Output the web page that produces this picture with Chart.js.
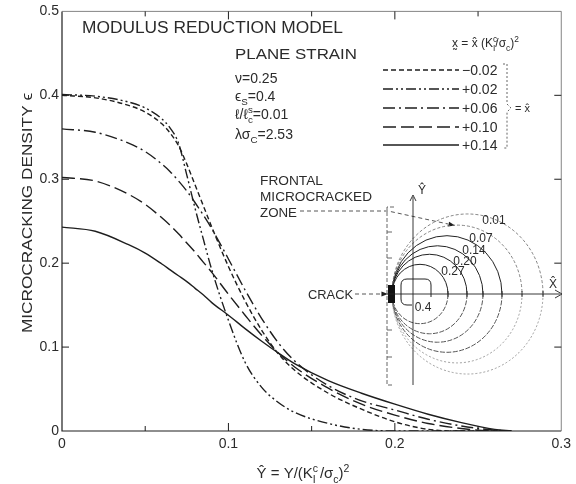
<!DOCTYPE html>
<html><head><meta charset="utf-8">
<script src="https://cdn.jsdelivr.net/npm/chart.js@4.4.1/dist/chart.umd.min.js"></script>
<style>html,body{margin:0;padding:0;background:#fff}canvas{display:block}</style>
</head><body>
<canvas id="c" width="576" height="484"></canvas>
<script>
// ---- data ----
const yHat = [0, 0.02, 0.04, 0.05, 0.06, 0.065, 0.07, 0.075, 0.08, 0.085, 0.09, 0.10, 0.11, 0.12, 0.13, 0.14, 0.16, 0.18, 0.20, 0.22, 0.24, 0.26, 0.27];
const epsMinus002 = [0.400,0.397,0.388,0.380,0.366,0.355,0.340,0.318,0.293,0.268,0.243,0.196,0.155,0.120,0.092,0.072,0.045,0.026,0.011,0.002,0,0,0];
const epsPlus002  = [0.401,0.399,0.392,0.385,0.372,0.361,0.343,0.305,0.265,0.228,0.192,0.132,0.082,0.052,0.034,0.022,0.009,0.002,0,0,0,0,0];
const epsPlus006  = [0.360,0.356,0.343,0.333,0.318,0.309,0.298,0.286,0.272,0.257,0.241,0.205,0.168,0.134,0.105,0.083,0.054,0.036,0.025,0.014,0.006,0.001,0];
const epsPlus010  = [0.302,0.298,0.282,0.270,0.254,0.245,0.235,0.224,0.213,0.201,0.189,0.163,0.138,0.114,0.093,0.076,0.051,0.032,0.019,0.009,0.003,0,0];
const epsPlus014  = [0.243,0.238,0.222,0.212,0.199,0.192,0.185,0.178,0.170,0.162,0.153,0.138,0.122,0.107,0.093,0.080,0.060,0.045,0.032,0.020,0.010,0.002,0];
const seriesLabels = ['\u22120.02', '+0.02', '+0.06', '+0.10', '+0.14'];
const xTickLabels = ['0', '0.1', '0.2', '0.3'];
const yTickLabels = ['0', '0.1', '0.2', '0.3', '0.4', '0.5'];
const contourLabels = ['0.01', '0.07', '0.14', '0.20', '0.27', '0.4'];

const INK = '#1e1e1e';
const TXT = '#2b2b2b';
const FAM = '"Liberation Sans", Arial, sans-serif';

function pts(arr){ return yHat.map((x,i)=>({x:x, y:arr[i]})); }
const styles = [[5,3],[10,3,2,3,2,3],[12,4,2,4],[13,5],[]];
const seriesData = [epsMinus002, epsPlus002, epsPlus006, epsPlus010, epsPlus014];
const datasets = seriesData.map((arr,i)=>({
  label: seriesLabels[i], data: pts(arr), borderDash: styles[i],
  borderColor: INK, borderWidth: 1.4, pointRadius: 0, fill: false,
  cubicInterpolationMode: 'monotone'
}));

// rich text: segs {t,k} k: undefined | 'sup' | 'sub' | 'sup0' (superscript without advance)
function richWidth(ctx, segs, size){
  let w=0;
  segs.forEach(s=>{
    const sz = s.k ? size*0.7 : size;
    ctx.font = sz+'px '+FAM;
    if (s.k!=='sup0') w += ctx.measureText(s.t).width;
  });
  return w;
}
function rich(ctx, x, y, segs, size, align){
  const w = richWidth(ctx, segs, size);
  let cx = align==='center' ? x - w/2 : x;
  ctx.textAlign='left'; ctx.textBaseline='alphabetic'; ctx.fillStyle=TXT;
  segs.forEach(s=>{
    const sz = s.k ? size*0.7 : size;
    ctx.font = sz+'px '+FAM;
    let dy = 0;
    if (s.k==='sup' || s.k==='sup0') dy = -size*0.42;
    if (s.k==='sub') dy = size*0.3;
    ctx.fillText(s.t, cx, y+dy);
    if (s.k!=='sup0') cx += ctx.measureText(s.t).width;
  });
}
function fitText(ctx, text, x, y, w, size, align){
  ctx.font = size+'px '+FAM;
  const m = ctx.measureText(text).width;
  ctx.save();
  ctx.translate(x, y);
  ctx.scale(w/m, 1);
  ctx.textAlign = align||'left';
  ctx.fillStyle = TXT;
  ctx.fillText(text, 0, 0);
  ctx.restore();
}
function line(ctx, pts){ ctx.beginPath(); ctx.moveTo(pts[0][0],pts[0][1]); for(let i=1;i<pts.length;i++) ctx.lineTo(pts[i][0],pts[i][1]); ctx.stroke(); }
function head(ctx, x, y, ang, L){
  ctx.beginPath(); ctx.moveTo(x,y);
  ctx.lineTo(x - L*Math.cos(ang-0.35), y - L*Math.sin(ang-0.35));
  ctx.lineTo(x - L*Math.cos(ang+0.35), y - L*Math.sin(ang+0.35));
  ctx.closePath(); ctx.fill();
}

const decor = {
  id: 'decor',
  afterDatasetsDraw(chart){
    const {ctx, chartArea:a, scales} = chart;
    const xs = scales.x, ys = scales.y;
    ctx.save();
    ctx.setLineDash([]);
    // frame
    ctx.strokeStyle = INK; ctx.lineWidth = 1.2;
    line(ctx, [[a.left,a.top],[a.left,a.bottom],[a.right,a.bottom]]);
    ctx.strokeStyle = '#666'; ctx.lineWidth = 0.8;
    line(ctx, [[a.left,a.top],[a.right,a.top],[a.right,a.bottom]]);
    // inward ticks
    ctx.strokeStyle = INK; ctx.lineWidth = 1;
    for (let i=1;i<=5;i++){
      const px = xs.getPixelForValue(i*0.05);
      const L = i%2 ? 5 : 8;
      line(ctx, [[px,a.bottom],[px,a.bottom-L]]);
      line(ctx, [[px,a.top],[px,a.top+L]]);
    }
    for (let i=1;i<=4;i++){
      const py = ys.getPixelForValue(i*0.1);
      line(ctx, [[a.left,py],[a.left+7,py]]);
      line(ctx, [[a.right,py],[a.right-7,py]]);
    }
    // axis titles
    ctx.save();
    ctx.translate(27, 213); ctx.rotate(-Math.PI/2);
    fitText(ctx, 'MICROCRACKING DENSITY \u03F5', 0, 5, 240, 15, 'center');
    ctx.restore();
    rich(ctx, 303, 478, [{t:'\u0176 = Y/(K'},{t:'c',k:'sup0'},{t:'I',k:'sub'},{t:' /\u03C3'},{t:'c',k:'sub'},{t:')'},{t:'2',k:'sup'}], 15, 'center');

    // annotations
    fitText(ctx, 'MODULUS REDUCTION MODEL', 82, 33, 261, 16);
    fitText(ctx, 'PLANE STRAIN', 235, 59, 122, 14);
    rich(ctx, 235, 83, [{t:'\u03BD=0.25'}], 14);
    rich(ctx, 235, 101, [{t:'\u03F5'},{t:'S',k:'sub'},{t:'=0.4'}], 14);
    rich(ctx, 235, 119, [{t:'\u2113/\u2113'},{t:'s',k:'sup0'},{t:'c',k:'sub'},{t:'=0.01'}], 14);
    rich(ctx, 235, 139, [{t:'\u03BB\u03C3'},{t:'C',k:'sub'},{t:'=2.53'}], 14);

    // legend
    rich(ctx, 452, 47, [{t:'x\u0330 = x\u0302 (K'},{t:'c',k:'sup0'},{t:'I',k:'sub'},{t:'/\u03C3'},{t:'c',k:'sub'},{t:')'},{t:'2',k:'sup'}], 12);
    const rows = [70, 89, 108, 127, 145];
    chart.data.datasets.forEach((d,i)=>{
      ctx.strokeStyle = INK; ctx.lineWidth = 1.4;
      ctx.setLineDash(d.borderDash);
      line(ctx, [[383,rows[i]],[459,rows[i]]]);
      ctx.setLineDash([]);
      ctx.font = '14px '+FAM; ctx.fillStyle = TXT; ctx.textAlign='left'; ctx.textBaseline='middle';
      ctx.fillText(d.label, 462, rows[i]+1);
    });
    ctx.textBaseline='alphabetic';
    ctx.strokeStyle = '#555'; ctx.lineWidth = 0.9; ctx.setLineDash([2,2]);
    line(ctx, [[503,64],[507,64],[507,104],[511,108],[507,112],[507,148],[503,148]]);
    ctx.setLineDash([]);
    rich(ctx, 515, 112, [{t:'= x\u0302'}], 11);

    // frontal zone text + leaders
    fitText(ctx, 'FRONTAL', 260, 185, 63, 13);
    fitText(ctx, 'MICROCRACKED', 260, 201, 112, 13);
    fitText(ctx, 'ZONE', 260, 217, 37, 13);
    fitText(ctx, 'CRACK', 308, 299, 45, 13);
    ctx.strokeStyle = '#444'; ctx.fillStyle = INK; ctx.lineWidth = 0.9;
    ctx.setLineDash([4,3]);
    line(ctx, [[300,211],[388,211],[448,224]]);
    line(ctx, [[355,294],[382,294]]);
    ctx.setLineDash([]);
    head(ctx, 455, 225.5, Math.atan2(13,60), 7);
    head(ctx, 388, 294, 0, 7);

    // inset: contour sketch of the frontal zone
    const tipX = 392, tipY = 294;
    const rights = [448, 467, 483, 502, 522, 543];
    rights.forEach((R,i)=>{
      const rx = (R-tipX)/2, ry = rx*1.06, cx = tipX+rx;
      const outer = i>=4;
      ctx.lineWidth = outer ? 0.8 : 1;
      ctx.strokeStyle = outer ? '#666' : '#222';
      ctx.setLineDash(outer ? [3,2] : []);
      ctx.beginPath(); ctx.ellipse(cx, tipY, rx, ry, 0, Math.PI, 2*Math.PI); ctx.stroke();
      ctx.strokeStyle = outer ? '#888' : '#555';
      ctx.setLineDash(outer ? [2,2] : [5,1.5]);
      ctx.beginPath(); ctx.ellipse(cx, tipY, rx, ry, 0, 0, Math.PI); ctx.stroke();
    });
    ctx.setLineDash([]);
    ctx.strokeStyle = '#222'; ctx.lineWidth = 1;
    ctx.beginPath();
    ctx.moveTo(412,305); ctx.lineTo(407,305); ctx.quadraticCurveTo(401,305,401,299);
    ctx.lineTo(401,285); ctx.quadraticCurveTo(401,279,407,279); ctx.lineTo(425,279);
    ctx.quadraticCurveTo(431,279,431,285); ctx.lineTo(431,297); ctx.stroke();
    // crack
    ctx.fillStyle = '#111';
    ctx.fillRect(388, 285, 7, 18);
    // inset axes
    ctx.strokeStyle = '#222'; ctx.lineWidth = 0.9;
    line(ctx, [[387,294],[560,294]]);
    line(ctx, [[555,290],[562,294],[555,298]]);
    line(ctx, [[413,385],[413,197]]);
    line(ctx, [[410,201],[413,195],[416,201]]);
    rights.forEach(R=>line(ctx, [[R,291],[R,297]]));
    // bracket frame
    ctx.strokeStyle = '#555'; ctx.lineWidth = 0.9; ctx.setLineDash([4,2]);
    line(ctx, [[394,207],[387,207],[387,385],[394,385]]);
    ctx.setLineDash([]);
    [232,258,330,357].forEach(yy=>line(ctx, [[387,yy],[392,yy]]));
    rich(ctx, 418, 194, [{t:'\u0176'}], 12);
    rich(ctx, 549, 288, [{t:'X\u0302'}], 12);
    // contour labels
    const lpos = [[494,224],[481,242],[474,254],[465,265],[453,275],[423,311]];
    ctx.font = '12px '+FAM; ctx.fillStyle = TXT; ctx.textAlign='center'; ctx.textBaseline='alphabetic';
    contourLabels.forEach((t,i)=>ctx.fillText(t, lpos[i][0], lpos[i][1]));
    ctx.restore();
  }
};

new Chart(document.getElementById('c'), {
  type: 'line',
  data: { datasets: datasets },
  options: {
    responsive: false, animation: false, devicePixelRatio: 1,
    layout: { padding: { top: 11, right: 6, left: 0, bottom: 0 } },
    plugins: { legend: { display: false }, tooltip: { enabled: false } },
    scales: {
      x: {
        type: 'linear', min: 0, max: 0.3,
        afterBuildTicks: s => { s.ticks = xTickLabels.map(v=>({value: parseFloat(v)})); },
        afterFit: s => { s.height = 53; },
        ticks: { callback: (v,i)=>xTickLabels[i], color: TXT, font: { family: FAM, size: 14 }, padding: 5, maxRotation: 0 },
        grid: { display: false, drawTicks: false }, border: { display: false }
      },
      y: {
        type: 'linear', min: 0, max: 0.5,
        afterBuildTicks: s => { s.ticks = yTickLabels.map(v=>({value: parseFloat(v)})); },
        afterFit: s => { s.width = 62; },
        ticks: { callback: (v,i)=>yTickLabels[i], color: TXT, font: { family: FAM, size: 14 }, padding: 3 },
        grid: { display: false, drawTicks: false }, border: { display: false }
      }
    }
  },
  plugins: [decor]
});
</script>
</body></html>
